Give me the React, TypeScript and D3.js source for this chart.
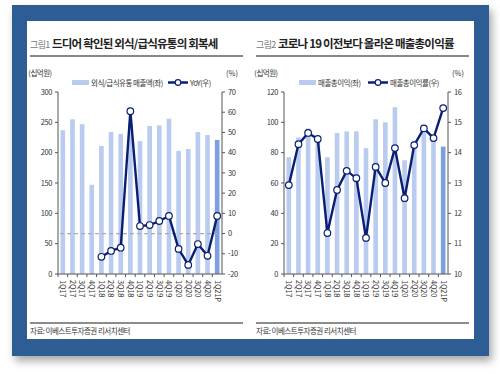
import React from 'react';
import * as d3 from 'd3';

const quarters = ['1Q17', '2Q17', '3Q17', '4Q17', '1Q18', '2Q18', '3Q18', '4Q18', '1Q19', '2Q19', '3Q19', '4Q19', '1Q20', '2Q20', '3Q20', '4Q20', '1Q21P'];

// 그림1
const foodSales = [237, 255, 247, 147, 211, 234, 231, 248, 219, 244, 245, 256, 203, 206, 234, 229, 221];
const foodYoY: (number | null)[] = [null, null, null, null, -11.5, -8.6, -7, 60.5, 3.7, 4.2, 6.2, 8.7, -7.6, -15.5, -5.2, -11, 8.7];
const leftTicks1 = [0, 50, 100, 150, 200, 250, 300];
const rightTicks1 = [-20, -10, 0, 10, 20, 30, 40, 50, 60, 70];

// 그림2
const grossProfit = [77, 90, 96, 89, 77, 93, 94, 94, 83, 102, 100, 110, 75, 88, 93, 90, 84];
const grossMargin = [12.93, 14.28, 14.65, 14.45, 11.35, 12.77, 13.4, 13.16, 11.19, 13.53, 13.0, 14.15, 12.5, 14.25, 14.8, 14.48, 15.47];
const leftTicks2 = [0, 20, 40, 60, 80, 100, 120];
const rightTicks2 = [10, 11, 12, 13, 14, 15, 16];

const FONT = '"Noto Sans CJK KR", "Noto Sans", sans-serif';
const BAR = '#b9cbef';
const BAR_LAST = '#7d9fe0';
const NAVY = '#0b1f72';
const AXIS = '#555';

type PanelProps = {
  dx: number;
  label: string;
  title: string;
  barName: string;
  lineName: string;
  legendBar: number;
  legendLine: number;
  bars: number[];
  line: (number | null)[];
  leftDomain: [number, number];
  rightDomain: [number, number];
  leftTicks: number[];
  rightTicks: number[];
  zeroLine?: boolean;
};

function Panel(p: PanelProps) {
  const x0 = 58 + p.dx;
  const x1 = 222 + p.dx;
  const yTop = 92;
  const yBot = 274;

  const x = d3.scaleBand<string>().domain(quarters).range([x0, x1]).paddingInner(0.52).paddingOuter(0.26);
  const yL = d3.scaleLinear().domain(p.leftDomain).range([yBot, yTop]);
  const yR = d3.scaleLinear().domain(p.rightDomain).range([yBot, yTop]);
  const cx = (q: string) => (x(q) ?? 0) + x.bandwidth() / 2;

  const pts = quarters.map((q, i) => ({ q, v: p.line[i] })).filter(d => d.v != null) as { q: string; v: number }[];
  const path = d3.line<{ q: string; v: number }>().x(d => cx(d.q)).y(d => yR(d.v))(pts) ?? '';

  const tx = 30 + p.dx;
  const step = x.step();
  const lb = tx + p.legendBar;
  const ll = tx + p.legendLine;

  return (
    <g fontFamily={FONT}>
      <text x={tx} y={48} fontSize={9} fill="#777" letterSpacing={-0.6}>{p.label}</text>
      <text x={tx + 22} y={48} fontSize={11.5} fontWeight="bold" fill="#222" letterSpacing={-0.8}>{p.title}</text>
      <line x1={tx} x2={tx + 213} y1={56} y2={56} stroke="#888" strokeWidth={2} />

      <text x={tx + 10} y={76} fontSize={7.5} fill="#333" textAnchor="middle" letterSpacing={-0.5}>(십억원)</text>
      <text x={x1 + 10} y={76} fontSize={7.5} fill="#333" textAnchor="middle">(%)</text>

      <rect x={lb} y={80} width={17} height={5} fill={BAR} />
      <text x={lb + 19} y={85.5} fontSize={7.5} fill="#333" letterSpacing={-0.5}>{p.barName}</text>
      <line x1={ll} x2={ll + 20} y1={82.5} y2={82.5} stroke={NAVY} strokeWidth={2.5} />
      <circle cx={ll + 10} cy={82.5} r={2.8} fill="#fff" stroke={NAVY} strokeWidth={1.2} />
      <text x={ll + 22} y={85.5} fontSize={7.5} fill="#333" letterSpacing={-0.5}>{p.lineName}</text>

      {p.bars.map((v, i) => (
        <rect key={quarters[i]} x={x(quarters[i])} y={yL(v)} width={x.bandwidth()} height={yBot - yL(v)}
          fill={i === quarters.length - 1 ? BAR_LAST : BAR} />
      ))}

      {p.zeroLine && (
        <line x1={x0 + 2} x2={x1 - 4} y1={yR(0)} y2={yR(0)} stroke="#aaa" strokeWidth={1.2} strokeDasharray="4,3" />
      )}

      <line x1={x0} x2={x0} y1={yTop} y2={yBot} stroke={AXIS} />
      <line x1={x1} x2={x1} y1={yTop} y2={yBot} stroke={AXIS} />
      <line x1={x0} x2={x1} y1={yBot} y2={yBot} stroke={AXIS} />

      {p.leftTicks.map(t => (
        <g key={'l' + t}>
          <line x1={x0 - 3} x2={x0} y1={yL(t)} y2={yL(t)} stroke={AXIS} />
          <text x={x0 - 6} y={yL(t)} dy="0.35em" fontSize={7.5} textAnchor="end" fill="#333" letterSpacing={-0.4}>{t}</text>
        </g>
      ))}
      {p.rightTicks.map(t => (
        <g key={'r' + t}>
          <line x1={x1} x2={x1 + 3} y1={yR(t)} y2={yR(t)} stroke={AXIS} />
          <text x={x1 + 6} y={yR(t)} dy="0.35em" fontSize={7.5} textAnchor="start" fill="#333" letterSpacing={-0.4}>{t}</text>
        </g>
      ))}
      {quarters.map((q, i) => {
        const tickX = (x(q) ?? 0) - (step - x.bandwidth()) / 2;
        return (
          <g key={'x' + q}>
            <line x1={tickX} x2={tickX} y1={yBot} y2={yBot + 3} stroke={AXIS} />
            <text transform={`translate(${cx(q)},${yBot + 6}) rotate(90)`} fontSize={7.5} fill="#333" dy="0.35em" letterSpacing={-0.2}>{q}</text>
          </g>
        );
      })}

      <path d={path} fill="none" stroke={NAVY} strokeWidth={2.4} strokeLinejoin="round" />
      {pts.map(d => (
        <circle key={'c' + d.q} cx={cx(d.q)} cy={yR(d.v)} r={3.3} fill="#fff" stroke={NAVY} strokeWidth={1.2} />
      ))}

      <line x1={tx} x2={tx + 213} y1={323} y2={323} stroke="#666" strokeWidth={1.5} />
      <text x={tx} y={334} fontSize={7.5} fill="#333" letterSpacing={-0.5}>자료: 이베스트투자증권 리서치센터</text>
    </g>
  );
}

export default function App() {
  return (
    <svg width={500} height={374} style={{ position: 'absolute', left: 0, top: 0 }}>
      <defs>
        <filter id="shadow" x="-10%" y="-10%" width="125%" height="125%">
          <feDropShadow dx={3} dy={5} stdDeviation={4} floodColor="#000" floodOpacity={0.35} />
        </filter>
      </defs>
      <rect width={500} height={374} fill="#fff" />
      <rect x={12} y={5} width={477} height={351} fill="#2f5b95" filter="url(#shadow)" />
      <rect x={27} y={21} width={447} height={318} fill="#fff" />
      <Panel dx={0} label="그림1" title="드디어 확인된 외식/급식유통의 회복세" barName="외식/급식유통 매출액(좌)" lineName="YoY(우)"
        legendBar={42} legendLine={138}
        bars={foodSales} line={foodYoY} leftDomain={[0, 300]} rightDomain={[-20, 70]}
        leftTicks={leftTicks1} rightTicks={rightTicks1} zeroLine />
      <Panel dx={226} label="그림2" title="코로나 19 이전보다 올라온 매출총이익률" barName="매출총이익(좌)" lineName="매출총이익률(우)"
        legendBar={43} legendLine={112}
        bars={grossProfit} line={grossMargin} leftDomain={[0, 120]} rightDomain={[10, 16]}
        leftTicks={leftTicks2} rightTicks={rightTicks2} />
    </svg>
  );
}
